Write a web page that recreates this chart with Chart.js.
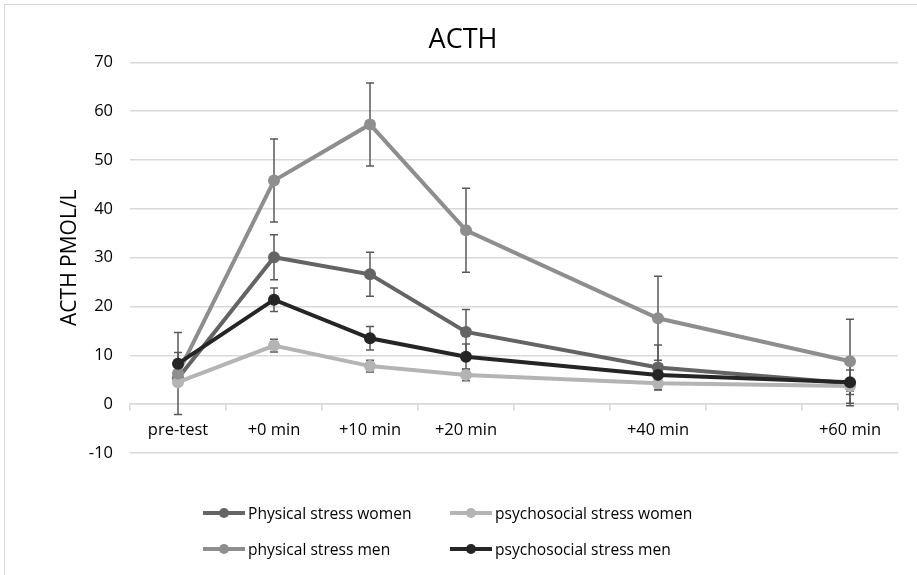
<!DOCTYPE html>
<html>
<head>
<meta charset="utf-8">
<script src="https://cdn.jsdelivr.net/npm/chart.js@4.4.1/dist/chart.umd.min.js"></script>
<style>
  body { margin: 0; background: #fff; font-family: 'Open Sans', sans-serif; }
  #wrap { position: relative; width: 917px; height: 575px; overflow: hidden; }
  #frame { position: absolute; left: 4px; top: 4px; right: -2px; bottom: -2px;
           border-top: 1.5px solid #d9d9d9; border-left: 1.5px solid #d9d9d9; }
  canvas { position: absolute; left: 0; top: 0; }
  .item { position: absolute; height: 20px; display: flex; align-items: center;
          font-size: 15.6px; color: #000; white-space: nowrap; }
  .sym { position: relative; width: 42px; height: 20px; margin-right: 3px; }
  .sym .ln { position: absolute; left: 0; right: 0; top: 8px; height: 4px; }
  .sym .dot { position: absolute; left: 16px; top: 5px; width: 10px; height: 10px; border-radius: 50%; }
</style>
</head>
<body>
<div id="wrap">
  <div id="frame"></div>
  <canvas id="chart" width="917" height="575"></canvas>
  <div id="legend"></div>
</div>
<script>
// time points (empty slots keep the spacing of +30 and +50 min)
const labels = ['pre-test', '+0 min', '+10 min', '+20 min', '', '+40 min', '', '+60 min'];

const physWomen    = [5.3, 30.1, 26.6, 14.8, null, 7.5, null, 4.3];
const physWomenErr = [1.4, 4.6, 4.5, 4.6, null, 4.6, null, 4.6];

const psyWomen     = [4.5, 12.0, 7.8, 6.0, null, 4.3, null, 3.7];
const psyWomenErr  = [0.8, 1.3, 1.2, 1.2, null, 1.3, null, 1.0];

const physMen      = [6.3, 45.8, 57.3, 35.6, null, 17.6, null, 8.8];
const physMenErr   = [8.4, 8.5, 8.5, 8.6, null, 8.6, null, 8.6];

const psyMen       = [8.3, 21.4, 13.5, 9.7, null, 6.0, null, 4.5];
const psyMenErr    = [2.3, 2.4, 2.4, 2.6, null, 2.2, null, 2.5];

const font = { family: 'Open Sans', size: 16.5 };

const makeSet = (label, data, errors, color, order) => ({
    label, data, errors, order,
    borderColor: color,
    backgroundColor: color,
    borderWidth: 4,
    pointRadius: 6,
    pointBorderWidth: 0,
    pointBackgroundColor: color,
    spanGaps: true,
    tension: 0
});

// draws +/- error bars using the y scale
const errorBars = {
    id: 'errorBars',
    beforeDatasetsDraw(chart) {
        const ctx = chart.ctx;
        const y = chart.scales.y;
        ctx.save();
        ctx.strokeStyle = '#595959';
        ctx.lineWidth = 1.5;
        chart.data.datasets.forEach((ds, i) => {
            const meta = chart.getDatasetMeta(i);
            meta.data.forEach((pt, j) => {
                const v = ds.data[j];
                const e = ds.errors[j];
                if (v == null || e == null) return;
                const top = y.getPixelForValue(v + e);
                const bot = y.getPixelForValue(v - e);
                ctx.beginPath();
                ctx.moveTo(pt.x, top); ctx.lineTo(pt.x, bot);
                ctx.moveTo(pt.x - 4, top); ctx.lineTo(pt.x + 4, top);
                ctx.moveTo(pt.x - 4, bot); ctx.lineTo(pt.x + 4, bot);
                ctx.stroke();
            });
        });
        ctx.restore();
    }
};

const chart = new Chart(document.getElementById('chart'), {
    type: 'line',
    data: {
        labels: labels,
        datasets: [
            makeSet('Physical stress women', physWomen, physWomenErr, '#646464', 3),
            makeSet('psychosocial stress women', psyWomen, psyWomenErr, '#b4b4b4', 2),
            makeSet('physical stress men', physMen, physMenErr, '#8e8e8e', 1),
            makeSet('psychosocial stress men', psyMen, psyMenErr, '#252525', 0)
        ]
    },
    plugins: [errorBars],
    options: {
        responsive: false,
        animation: false,
        layout: { padding: { left: 28, right: 19, top: 0, bottom: 122 } },
        plugins: {
            legend: { display: false },
            tooltip: { enabled: false },
            title: {
                display: true,
                text: 'ACTH',
                color: '#000',
                font: { family: 'Open Sans', size: 27, weight: 'normal' },
                padding: { top: 24, bottom: 6 }
            }
        },
        scales: {
            x: {
                type: 'category',
                position: { y: 0 },
                offset: true,
                grid: { display: true, drawOnChartArea: false, drawTicks: true, tickLength: 6, offset: true, color: '#d9d9d9', lineWidth: 1.5 },
                border: { display: true, color: '#d9d9d9', width: 1.5 },
                ticks: { color: '#000', font: font, padding: 10, autoSkip: false, maxRotation: 0 },
                afterFit(scale) { scale.height = 0; }
            },
            y: {
                min: -10,
                max: 70,
                ticks: { stepSize: 10, padding: 17, color: '#000', font: font },
                grid: { color: '#d9d9d9', drawTicks: false, lineWidth: 1.5 },
                border: { display: false },
                title: { display: true, text: 'ACTH PMOL/L', color: '#000', font: { family: 'Open Sans', size: 21 }, padding: { top: 29, bottom: 0 } },
                afterFit(scale) { scale.width = 102; }
            }
        }
    }
});

// two-column legend below the plot
const legend = document.getElementById('legend');
const cols = [203, 450];
const rows = [503, 539];
chart.data.datasets.forEach((ds, i) => {
    const item = document.createElement('div');
    item.className = 'item';
    item.style.left = cols[i % 2] + 'px';
    item.style.top = rows[Math.floor(i / 2)] + 'px';
    item.innerHTML = '<span class="sym"><span class="ln" style="background:' + ds.borderColor +
        '"></span><span class="dot" style="background:' + ds.borderColor + '"></span></span>';
    item.appendChild(document.createTextNode(ds.label));
    legend.appendChild(item);
});
</script>
</body>
</html>
